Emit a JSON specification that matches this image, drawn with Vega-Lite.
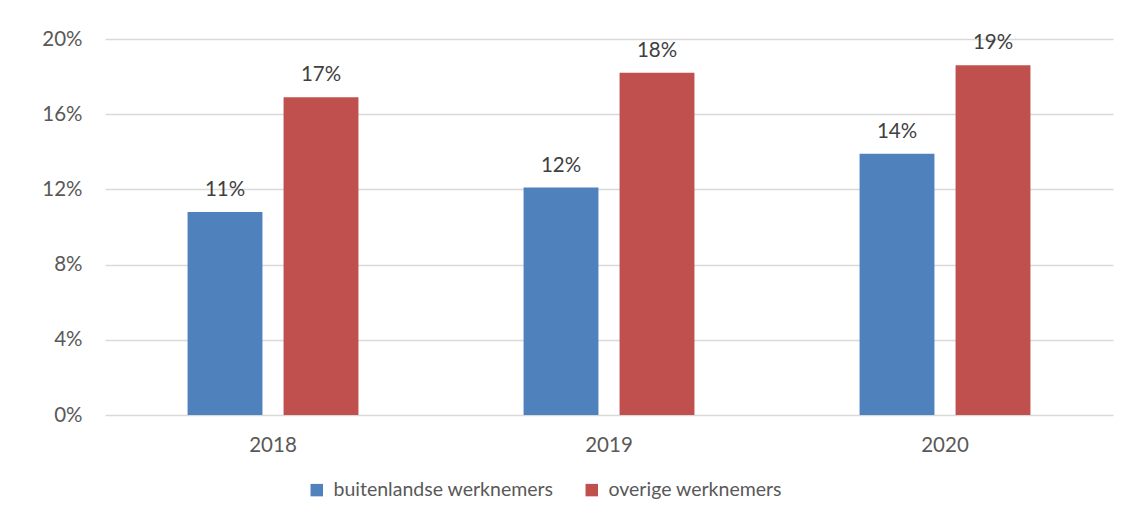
{
  "$schema": "https://vega.github.io/schema/vega-lite/v6.json",
  "width": 1008,
  "height": 376,
  "autosize": {"type": "none"},
  "padding": {"left": 105, "top": 39, "right": 23, "bottom": 109},
  "background": "white",
  "config": {
    "font": "Lato",
    "view": {"stroke": null},
    "axis": {"labelFont": "Lato", "labelColor": "#595959", "labelFontSize": 20.5, "ticks": false, "domain": false, "title": null}
  },
  "data": {
    "values": [
      {"jaar": "2018", "groep": "buitenlandse werknemers", "waarde": 0.108},
      {"jaar": "2018", "groep": "overige werknemers", "waarde": 0.169},
      {"jaar": "2019", "groep": "buitenlandse werknemers", "waarde": 0.121},
      {"jaar": "2019", "groep": "overige werknemers", "waarde": 0.182},
      {"jaar": "2020", "groep": "buitenlandse werknemers", "waarde": 0.139},
      {"jaar": "2020", "groep": "overige werknemers", "waarde": 0.186}
    ]
  },
  "encoding": {
    "x": {"field": "jaar", "type": "nominal", "scale": {"paddingInner": 0, "paddingOuter": 0}, "axis": {"labelAngle": 0, "labelPadding": 20, "grid": false}},
    "xOffset": {"field": "groep", "type": "nominal", "scale": {"paddingInner": 0.22, "paddingOuter": 0.86}},
    "y": {"field": "waarde", "type": "quantitative", "scale": {"domain": [0, 0.2], "nice": false}, "axis": {"values": [0, 0.04, 0.08, 0.12, 0.16, 0.2], "format": ".0%", "labelPadding": 23, "gridColor": "#d9d9d9", "gridWidth": 1.5}}
  },
  "layer": [
    {
      "mark": {"type": "bar"},
      "encoding": {
        "color": {"field": "groep", "type": "nominal", "scale": {"domain": ["buitenlandse werknemers", "overige werknemers"], "range": ["#4F81BD", "#C0504D"]},
          "legend": {"title": null, "orient": "none", "direction": "horizontal", "legendX": 202, "legendY": 441, "symbolType": "square", "symbolSize": 155, "symbolStrokeWidth": 0, "labelFont": "Lato", "labelFontSize": 19.5, "labelColor": "#595959", "labelLimit": 0, "columnPadding": 28, "symbolOffset": 0, "labelOffset": 7}}
      }
    },
    {
      "mark": {"type": "text", "baseline": "bottom", "dy": -12, "font": "Lato", "fontSize": 20.5, "color": "#404040"},
      "encoding": {
        "text": {"field": "waarde", "type": "quantitative", "format": ".0%"}
      }
    }
  ]
}
